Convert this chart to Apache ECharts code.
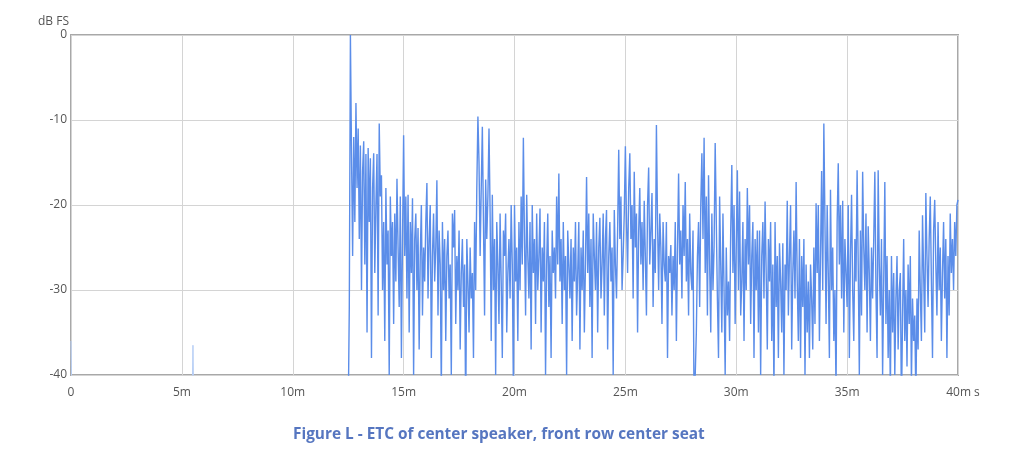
<!DOCTYPE html>
<html><head><meta charset="utf-8">
<script src="https://cdn.jsdelivr.net/npm/echarts@6/dist/echarts.min.js"></script>
<style>html,body{margin:0;padding:0;background:#fff}#c{width:1023px;height:460px}</style>
</head><body><div id="c"></div>
<script>
// ETC samples (dB FS), uniform step starting at startMs
const startMs = 12.5;
const stepMs = 0.05;
const etcDb = [
-45,-32,0,-14,-26,-12,-22,-8,-18,-11,
-24,-13,-30,-16,-12.5,-27,-14,-35,-13.3,-22,-14.5,-38,-18,-13.9,-28,-20,-14,-33,-10.4,-19,
-16.5,-30,-22,-36,-18,-27,-23,-40,-19,-26,-22,-34,-21,-29,-16.9,-25,-32,-19,-38,-24,
-11.8,-26,-19,-31,-18.8,-35,-22,-28,-19.2,-40,-24,-21,-30,-22.7,-37,-26,-20,-33,-25,-29,
-22,-17.4,-31,-24,-20,-38,-26,-21,-29,-25,-17.1,-33,-23,-27,-42,-22,-30,-24,-36,-26,
-23,-31,-27,-40,-21,-25,-20.6,-34,-26,-30,-23,-37,-28,-24,-32,-27,-45,-24,-29,-35,
-25,-31,-28,-38,-22,-30,-18,-9.6,-15,-26,-18,-10.8,-22,-33,-17,-24,-19,-11,-21,-36,
-18.8,-30,-24,-40,-22,-27,-34,-21,-29,-38,-23,-26,-21,-35,-28,-24,-31,-20,-27,-42,
-20,-29,-25,-36,-22,-30,-19,-27,-12.1,-24,-33,-18.8,-26,-31,-22,-37,-20,-28,-24,-34,
-21,-30,-26,-20.4,-35,-25,-29,-22,-40,-27,-21,-32,-26,-38,-23,-28,-25,-31,-19,-27,
-16.3,-29,-24,-34,-22,-30,-26,-40,-23,-27,-31,-24,-36,-25,-29,-22,-33,-28,-22,-37,
-25,-30,-23,-35,-27,-16.7,-28,-21,-32,-24,-38,-21,-26,-30,-22,-35,-25,-21.5,-31,-27,
-21,-33,-24,-20.6,-37,-26,-22,-29,-25,-40,-20.6,-27,-31,-23,-13.5,-24,-19,-30,-26,-21,
-13.1,-22,-28,-18,-13.9,-24,-20,-31,-16.1,-25,-21,-35,-23,-18,-27,-22,-30,-19.5,-26,-33,
-20,-15.6,-27,-23,-18.6,-32,-24,-28,-10.6,-22,-30,-21,-25,-34,-22,-27,-29,-22,-38,-26,
-28,-24.7,-33,-26,-30,-22,-36,-25,-16.3,-27,-23,-31,-20,-26,-17.3,-29,-24,-33,-21,-28,
-30,-23,-45,-45,-35,-26,-22,-32,-20,-13.9,-24,-12.1,-28,-19,-33,-16.5,-27,-35,-21,-30,
-25,-12.7,-22,-31,-38,-19,-27,-35,-21,-30,-40,-25,-33,-29,-36,-23,-15.3,-28,-20,-34,
-25,-15.9,-30,-18.4,-33,-29,-22,-36,-24,-30,-18,-27,-20,-34,-26,-22,-38,-24,-30,-23,
-35,-23,-40,-26,-22,-31,-19.6,-28,-37,-24,-29,-22,-36,-27,-42,-22,-32,-26,-38,-24.5,
-29,-35,-24.5,-40,-27,-30,-19.5,-33,-26,-20,-37,-28,-23,-31,-17.3,-29,-36,-24,-38,-26,
-32,-24,-40,-27,-35,-29,-38,-27,-31,-37,-25,-34,-19.8,-28,-20,-36,-26,-16,-30,-10.4,
-22,-34,-20,-28,-38,-18.2,-30,-25,-36,-30,-42,-22,-15.1,-27,-20,-31,-19.5,-35,-24,-28,
-32,-20,-38,-26,-18.8,-30,-36,-24,-29,-15.9,-27,-40,-23,-33,-16.1,-25,-30,-21,-35,-22.5,
-28,-36,-25,-31,-24,-16.1,-30,-38,-15.9,-27,-33,-24,-40,-29,-17.3,-34,-26,-38,-30,-42,
-26,-35,-28,-40,-31,-26,-37,-30,-28,-44,-33,-24,-36,-30,-39,-27,-34,-26,-41,-31,
-36,-33,-43,-31,-37,-23,-30,-36,-21.2,-28,-35,-18.6,-26,-32,-24,-19,-29,-38,-23,-19.4,
-27,-33,-22,-30,-25,-36,-28,-22,-31,-24,-38,-26,-33,-21,-28,-24,-30,-22,-26,-20,
-19.4
];
// faint pre-onset blips
const preTimes = [0, 0.05, 5.45, 5.5, 5.55];
const preDb = [-36, -45, -45, -36.5, -45];

const xTicks = [0, 5, 10, 15, 20, 25, 30, 35, 40];
const yTicks = [0, -10, -20, -30, -40];

const mainData = etcDb.map((v, i) => [Math.round((startMs + i * stepMs) * 1000) / 1000, v]);
const preData = preTimes.map((t, i) => [t, preDb[i]]);

const chart = echarts.init(document.getElementById('c'), null, {renderer: 'canvas'});
const lblFont = "'Open Sans', 'Noto Sans', sans-serif";
chart.setOption({
  animation: false,
  backgroundColor: '#fff',
  grid: {left: 71, right: 65, top: 35, bottom: 85, show: true, borderColor: '#a8a8a8', borderWidth: 2, backgroundColor: 'transparent'},
  xAxis: {
    type: 'value', min: 0, max: 40, interval: 5,
    axisLine: {show: false}, axisTick: {show: false},
    splitLine: {show: true, lineStyle: {color: '#d4d4d4', width: 1}},
    axisLabel: {
      margin: 12, color: '#555', fontSize: 12, fontFamily: lblFont,
      formatter: v => v === 0 ? '0' : (v === 40 ? '{e|40m s}' : v + 'm'),
      rich: {e: {color: '#555', fontSize: 12, fontFamily: lblFont, padding: [0, 0, 0, 10]}}
    }
  },
  yAxis: {
    type: 'value', min: -40, max: 0, interval: 10,
    name: 'dB FS', nameLocation: 'end', nameGap: 7,
    nameTextStyle: {color: '#555', fontSize: 12, fontFamily: lblFont, align: 'right', padding: [0, 2, 0, 0]},
    axisLine: {show: false}, axisTick: {show: false},
    splitLine: {show: true, lineStyle: {color: '#d4d4d4', width: 1}},
    axisLabel: {margin: 4, color: '#555', fontSize: 12, fontFamily: lblFont}
  },
  series: [
    {type: 'line', data: preData, showSymbol: false, symbol: 'none', clip: true,
     lineStyle: {color: '#b5cdf5', width: 1}},
    {type: 'line', data: mainData, showSymbol: false, symbol: 'none', clip: true,
     lineStyle: {color: '#5b8de9', width: 1.4}}
  ],
  graphic: [{
    type: 'text', left: 293, top: 427,
    style: {text: 'Figure L - ETC of center speaker, front row center seat', fill: '#5676c0',
      font: "bold 15.4px 'Open Sans', 'Noto Sans', sans-serif"}
  }]
});
</script></body></html>
